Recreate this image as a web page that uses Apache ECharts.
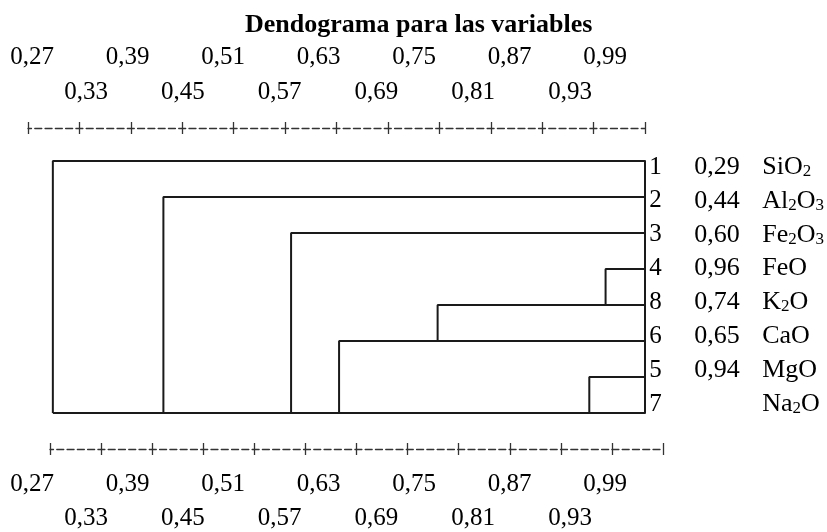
<!DOCTYPE html>
<html>
<head>
<meta charset="utf-8">
<script src="https://cdn.jsdelivr.net/npm/echarts@6/dist/echarts.min.js"></script>
<style>
	html, body { margin: 0; padding: 0; background: #fff; }
	#chart { width: 827px; height: 532px; }
</style>
</head>
<body>
<div id="chart"></div>
<script>
// 数据
const leafIds = ['1', '2', '3', '4', '8', '6', '5', '7'];
const leafValues = ['0,29', '0,44', '0,60', '0,96', '0,74', '0,65', '0,94', ''];
const leafNames = ['SiO₂', 'Al₂O₃', 'Fe₂O₃', 'FeO', 'K₂O', 'CaO', 'MgO', 'Na₂O'];
// each row runs from the leaf level to joinAt, then drops to the row in joinTo
const joinAt = [0.299, 0.428, 0.577, 0.944, 0.748, 0.633, 0.925, null];
const joinTo = ['7', '7', '7', '8', '6', '7', '7', null];
const leafLevel = 0.99;
const tickValues = [0.27, 0.33, 0.39, 0.45, 0.51, 0.57, 0.63, 0.69, 0.75, 0.81, 0.87, 0.93, 0.99];
const tickLabels = ['0,27', '0,33', '0,39', '0,45', '0,51', '0,57', '0,63', '0,69', '0,75', '0,81', '0,87', '0,93', '0,99'];

window.onload = function() {
	let chart = echarts.init(document.getElementById('chart'));
	let font = "'Liberation Serif', 'Times New Roman', serif";

	function tickLabel(v) {
		for (let i = 0; i < tickValues.length; i++) {
			if (Math.abs(tickValues[i] - v) < 1e-6) return tickLabels[i];
		}
		return '';
	}
	let evenTicks = tickValues.filter((v, i) => i % 2 === 0);
	let oddTicks = tickValues.filter((v, i) => i % 2 === 1);

	// 化学式下标
	function formula(name) {
		let out = '';
		for (let ch of name) {
			let code = ch.charCodeAt(0);
			if (code >= 0x2080 && code <= 0x2089) {
				out += '{b|' + (code - 0x2080) + '}';
			} else {
				out += '{s|' + ch + '}';
			}
		}
		return out;
	}

	// 刻度轴 "+----+----+"
	function tickAxis(grid, pos, offset, inside, showLine) {
		return {
			type: 'value', gridIndex: grid, position: pos, offset: offset,
			min: 0.27, max: 0.99,
			axisLine: {
				show: showLine, onZero: false,
				lineStyle: { color: '#333', width: 1.3, type: [7, 3.28], dashOffset: 3.5 }
			},
			axisTick: {
				show: true, inside: inside, length: 6, customValues: tickValues,
				lineStyle: { color: '#333', width: 1.3 }
			},
			axisLabel: { show: false },
			splitLine: { show: false }
		};
	}
	function labelAxis(grid, pos, margin, values) {
		return {
			type: 'value', gridIndex: grid, position: pos,
			min: 0.27, max: 0.99,
			axisLine: { show: false, onZero: false },
			axisTick: { show: false },
			splitLine: { show: false },
			axisLabel: {
				show: true, margin: margin, customValues: values,
				fontFamily: font, fontSize: 25, lineHeight: 24, color: '#000',
				formatter: tickLabel
			}
		};
	}
	function hiddenY(grid) {
		return { type: 'value', gridIndex: grid, show: false, min: 0, max: 1 };
	}

	let series = [];
	for (let i = 0; i < leafIds.length; i++) {
		let data = [[leafLevel, i]];
		if (joinAt[i] !== null) {
			data.push([joinAt[i], i]);
			data.push([joinAt[i], leafIds.indexOf(joinTo[i])]);
		} else {
			data.push([Math.min.apply(null, joinAt.filter(v => v !== null)), i]);
		}
		series.push({
			type: 'line', xAxisIndex: 0, yAxisIndex: 0,
			data: data, symbol: 'none', silent: true,
			lineStyle: { color: '#1a1a1a', width: 2 }
		});
	}

	let option = {
		animation: false,
		backgroundColor: '#fff',
		title: {
			text: 'Dendograma para las variables',
			left: 245, top: 12, padding: 0,
			textStyle: { fontFamily: font, fontSize: 26, fontWeight: 'bold', color: '#000' }
		},
		grid: [
			{ left: 28, right: 182, top: 161, bottom: 119 },
			{ left: 50, right: 164, top: 161, bottom: 119 },
			{ left: 32, right: 222, top: 161, bottom: 119 },
			{ left: 37.6, right: 208.6, top: 161, bottom: 119 },
			{ left: 28, right: 182, top: 167, bottom: 128 }
		],
		xAxis: [
			tickAxis(0, 'top', 33, false, true),
			tickAxis(0, 'top', 33, true, false),
			tickAxis(1, 'bottom', 36, false, true),
			tickAxis(1, 'bottom', 36, true, false),
			labelAxis(2, 'top', 92, evenTicks),
			labelAxis(2, 'bottom', 59, evenTicks),
			labelAxis(3, 'top', 57, oddTicks),
			labelAxis(3, 'bottom', 93, oddTicks),
			{ type: 'value', gridIndex: 4, show: false, min: 0, max: 1 }
		],
		yAxis: [
			{
				type: 'category', gridIndex: 0, data: leafIds, inverse: true, boundaryGap: false,
				position: 'right',
				axisLine: { show: true, lineStyle: { color: '#1a1a1a', width: 2 } },
				axisTick: { show: false },
				axisLabel: { show: false },
				splitLine: { show: false }
			},
			hiddenY(1),
			hiddenY(2),
			hiddenY(3),
			{
				type: 'category', gridIndex: 4, data: leafIds, inverse: true, boundaryGap: false,
				position: 'right',
				axisLine: { show: false },
				axisTick: { show: false },
				splitLine: { show: false },
				axisLabel: {
					show: true, margin: 5, align: 'left', interval: 0,
					fontFamily: font, color: '#000',
					formatter: function(value, index) {
						return '{n|' + value + '}{v|' + (leafValues[index] || ' ') + '}' + formula(leafNames[index]);
					},
					rich: {
						n: { fontFamily: font, fontSize: 25, lineHeight: 26, width: 45, color: '#000' },
						v: { fontFamily: font, fontSize: 26, lineHeight: 26, width: 68, color: '#000' },
						s: { fontFamily: font, fontSize: 26, lineHeight: 26, color: '#000' },
						b: { fontFamily: font, fontSize: 17, lineHeight: 14, verticalAlign: 'bottom', color: '#000' }
					}
				}
			}
		],
		series: series
	};
	chart.setOption(option);
};
</script>
</body>
</html>
